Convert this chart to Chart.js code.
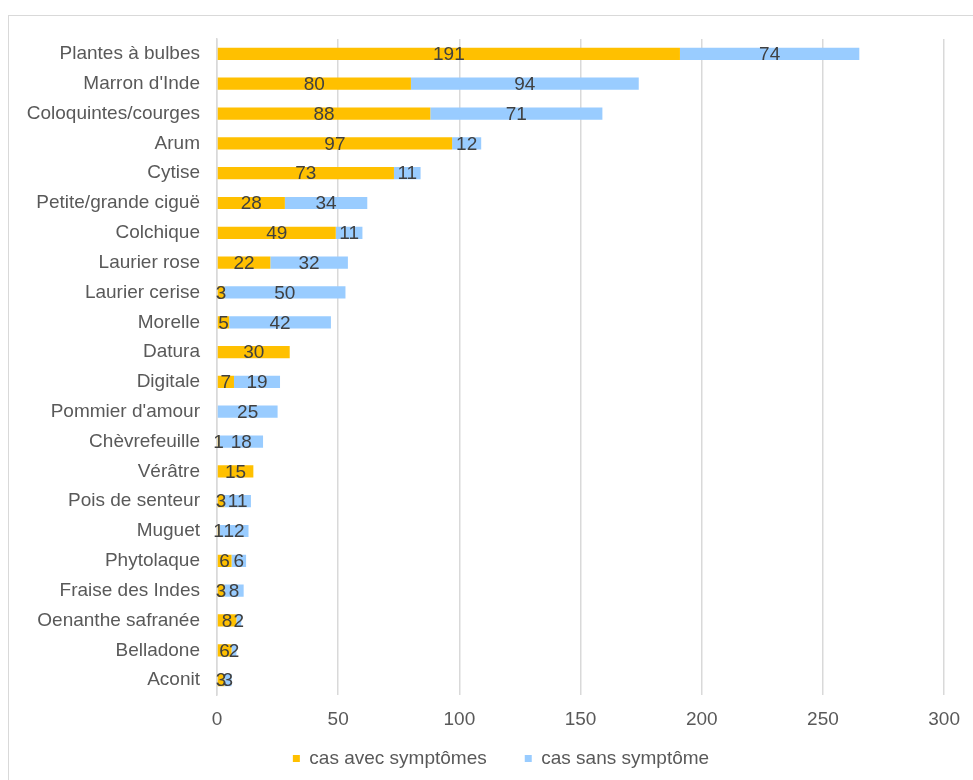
<!DOCTYPE html>
<html>
<head>
<meta charset="utf-8">
<script src="https://cdn.jsdelivr.net/npm/chart.js@4"></script>
<style>
html,body{margin:0;padding:0;background:#fff;}
#frame{position:absolute;left:8px;top:15px;width:980px;height:800px;border:1px solid #d9d9d9;box-sizing:border-box;}
#wrap{position:absolute;left:0;top:0;width:973px;height:780px;}
</style>
</head>
<body>
<div id="frame"></div>
<div id="wrap"><canvas id="c" width="973" height="780"></canvas></div>
<script>
const categories = ["Plantes à bulbes","Marron d'Inde","Coloquintes/courges","Arum","Cytise","Petite/grande ciguë","Colchique","Laurier rose","Laurier cerise","Morelle","Datura","Digitale","Pommier d'amour","Chèvrefeuille","Vérâtre","Pois de senteur","Muguet","Phytolaque","Fraise des Indes","Oenanthe safranée","Belladone","Aconit"];
const avecSymptomes = [191,80,88,97,73,28,49,22,3,5,30,7,null,1,15,3,1,6,3,8,6,3];
const sansSymptome = [74,94,71,12,11,34,11,32,50,42,null,19,25,18,null,11,12,6,8,2,2,3];
const xTicks = [0,50,100,150,200,250,300];

const FONT = '"Liberation Sans", Arial, sans-serif';

const labelPlugin = {
  id: 'barLabels',
  afterDatasetsDraw(chart) {
    const ctx = chart.ctx;
    ctx.save();
    ctx.font = '19px ' + FONT;
    ctx.fillStyle = '#404040';
    ctx.textAlign = 'center';
    ctx.textBaseline = 'middle';
    chart.data.datasets.forEach((ds, i) => {
      const meta = chart.getDatasetMeta(i);
      meta.data.forEach((bar, j) => {
        const v = ds.data[j];
        if (v === null || v === undefined) return;
        const p = bar.getProps(['x','y','base'], true);
        ctx.fillText(String(v), (p.x + p.base) / 2, p.y + 1);
      });
    });
    ctx.restore();
  }
};

const legendShift = {
  id: 'legendShift',
  afterLayout(chart) {
    const lg = chart.legend;
    if (!lg) return;
    lg.left += 23; lg.right += 23;
    lg.top -= 19; lg.bottom -= 19;
  }
};

new Chart(document.getElementById('c'), {
  type: 'bar',
  data: {
    labels: categories,
    datasets: [
      { label: 'cas avec symptômes', data: avecSymptomes, backgroundColor: '#FFC000', barPercentage: 0.82, categoryPercentage: 0.5 },
      { label: 'cas sans symptôme', data: sansSymptome, backgroundColor: '#99CCFF', barPercentage: 0.82, categoryPercentage: 0.5 }
    ]
  },
  plugins: [labelPlugin, legendShift],
  options: {
    indexAxis: 'y',
    responsive: false,
    animation: false,
    layout: { padding: { top: 39, right: 27, bottom: -17, left: 10 } },
    scales: {
      x: {
        stacked: true,
        min: 0, max: 300,
        afterBuildTicks(scale) { scale.ticks = xTicks.map(v => ({ value: v })); },
        afterFit(scale) { scale.height = 35; },
        grid: { color: '#d9d9d9', lineWidth: 1.5, drawTicks: false },
        border: { display: false },
        ticks: { color: '#595959', font: { size: 19, family: FONT }, padding: 13 }
      },
      y: {
        stacked: true,
        afterFit(scale) { scale.width = 207; },
        grid: { display: false, drawTicks: false },
        border: { display: true, color: '#d9d9d9', width: 1.5 },
        ticks: { color: '#595959', font: { size: 19, family: FONT }, padding: 17, autoSkip: false }
      }
    },
    plugins: {
      legend: {
        position: 'bottom',
        labels: { color: '#595959', boxWidth: 7, boxHeight: 7, padding: 38, font: { size: 19, family: FONT } }
      },
      tooltip: { enabled: false }
    }
  }
});
</script>
</body>
</html>
